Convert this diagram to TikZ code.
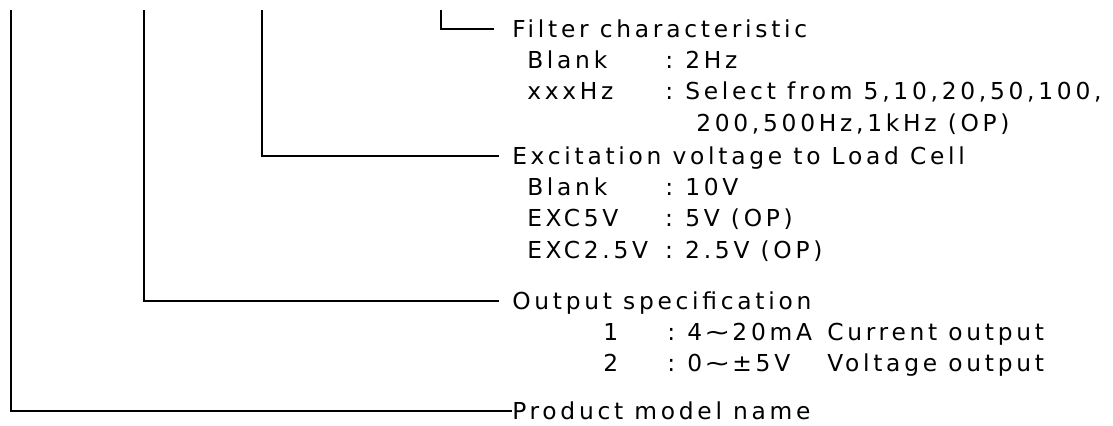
\documentclass[tikz,border=0pt]{standalone}
\usepackage{fontspec}
\usepackage{graphicx}
\newfontfamily\specfont{DejaVu Sans}[LetterSpace=16]
\usetikzlibrary{positioning}

\newcommand{\optrow}[2]{\makebox[103.5pt][l]{#1}\makebox[15pt][l]{:}#2}
\newcommand{\wave}{\makebox[1.3em]{\scalebox{1.35}[1]{∼}}}

\begin{document}
\begin{tikzpicture}[x=0.75pt, y=-0.75pt,
    lead/.style={line width=1.5pt, draw=black, shorten >=10pt},
    heading/.style={inner sep=0pt, anchor=west, text height=13.5pt, text depth=1.3pt,
      font=\specfont\fontsize{17.5}{24}\selectfont},
    item/.style={inner sep=0pt, anchor=base west,
      font=\specfont\fontsize{17.5}{24}\selectfont}
]
\useasboundingbox (0,0) rectangle (1113,425);
% free ends at the top
\coordinate (topA) at (11,10);
\coordinate (topB) at (144,10);
\coordinate (topC) at (262,10);
\coordinate (topD) at (441,10);
% headings
\node[heading] (filt) at (512,29)  {Filter characteristic};
\node[heading] (exc)  at (512,156) {Excitation voltage to Load Cell};
\node[heading] (outp) at (512,301) {Output specification};
\node[heading] (prod) at (512,411) {Product model name};
% options
\node[item] (f1) at (527,68.2)  {\optrow{Blank}{2Hz}};
\node[item] (f2) at (527,99.9)  {\optrow{xxxHz}{Select from 5,10,20,50,100,}};
\node[item] (f3) at (696,131.6) {200,500Hz,1kHz (OP)};
\node[item] (e1) at (527,195)   {\optrow{Blank}{10V}};
\node[item] (e2) at (527,226.7) {\optrow{EXC5V}{5V (OP)}};
\node[item] (e3) at (527,258.4) {\optrow{EXC2.5V}{2.5V (OP)}};
\node[item] (o1) at (603,340.2) {\makebox[48pt][l]{1}\makebox[15pt][l]{:}\makebox[105pt][l]{4\wave 20mA}Current output};
\node[item] (o2) at (603,371.9) {\makebox[48pt][l]{2}\makebox[15pt][l]{:}\makebox[105pt][l]{0\wave ±5V}Voltage output};
% leaders
\draw[lead, shorten >=13.5pt] (topD) |- (filt.west);
\draw[lead] (topC) |- (exc.west);
\draw[lead] (topB) |- (outp.west);
\draw[lead, shorten >=0pt] (topA) |- (prod.west);
\end{tikzpicture}
\end{document}
